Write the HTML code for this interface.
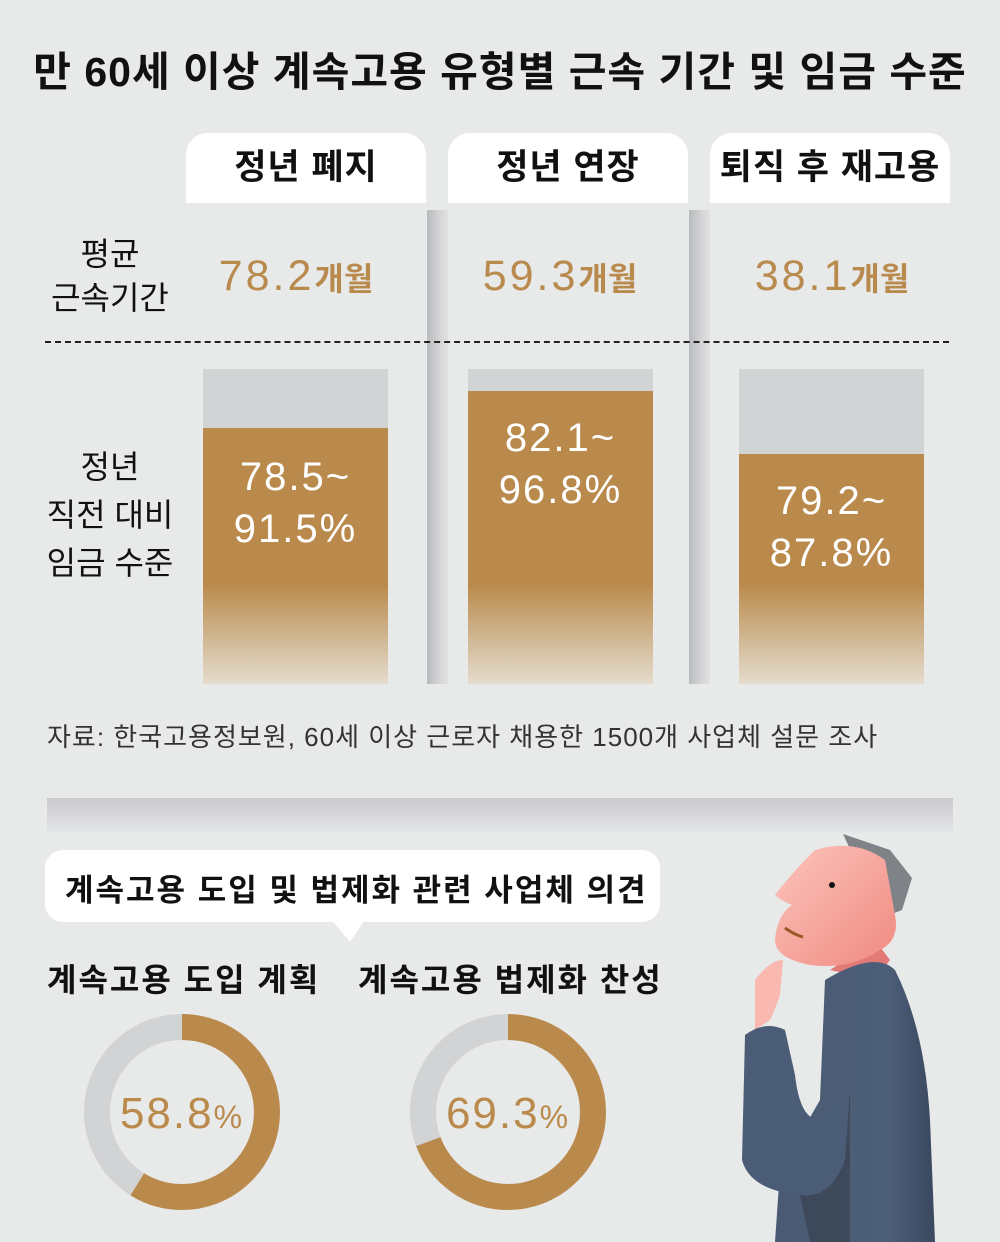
<!DOCTYPE html>
<html><head><meta charset="utf-8"><style>
*{margin:0;padding:0;box-sizing:border-box}
body{width:1000px;height:1242px;background:#e8e9e9;position:relative;overflow:hidden;font-family:"Liberation Sans","Noto Sans CJK KR",sans-serif;color:#111}
.a{position:absolute;white-space:nowrap}
.tab{position:absolute;top:133px;height:70px;width:240px;background:#fff;border-radius:22px 22px 0 0;text-align:center;font-size:35px;font-weight:bold;line-height:70px;letter-spacing:1px}
.sep{position:absolute;top:210px;height:474px;width:21px;background:linear-gradient(90deg,#b9babd,#d4d5d7 60%,#e0e1e2)}
.val{position:absolute;top:248px;width:240px;text-align:center;color:#b98a4e;font-size:43px;line-height:56px;letter-spacing:3px}
.val span{font-size:32px;font-weight:bold;letter-spacing:0}
.bar{position:absolute;top:369px;height:315px;width:185px;background:#d2d3d5}
.fill{position:absolute;left:0;right:0;bottom:0;background:linear-gradient(180deg,#ba8a4c 0,#ba8a4c calc(100% - 100px),#e4dccd 100%)}
.bt{position:absolute;left:0;right:0;text-align:center;color:#fff;font-size:40px;line-height:52px;letter-spacing:2px}
.lab{position:absolute;font-size:32px;line-height:48px;text-align:center}
.h2{position:absolute;top:955px;font-size:32px;font-weight:bold;letter-spacing:2px}
</style></head><body>
<div class="a" style="left:0;width:1000px;text-align:center;top:44px;font-size:41px;font-weight:bold;line-height:56px;letter-spacing:1px">만 60세 이상 계속고용 유형별 근속 기간 및 임금 수준</div>

<div class="tab" style="left:186px">정년 폐지</div>
<div class="tab" style="left:448px">정년 연장</div>
<div class="tab" style="left:710px">퇴직 후 재고용</div>

<div class="sep" style="left:427px"></div>
<div class="sep" style="left:689px"></div>

<div class="lab" style="left:35px;top:232px;width:150px;line-height:44px">평균<br>근속기간</div>
<div class="val" style="left:176px">78.2<span>개월</span></div>
<div class="val" style="left:440px">59.3<span>개월</span></div>
<div class="val" style="left:712px">38.1<span>개월</span></div>

<div class="a" style="left:45px;top:341px;width:904px;border-top:2px dashed #222"></div>

<div class="lab" style="left:25px;top:443px;width:170px">정년<br>직전 대비<br>임금 수준</div>

<div class="bar" style="left:203px"><div class="fill" style="top:59px"></div><div class="bt" style="top:82px">78.5~<br>91.5%</div></div>
<div class="bar" style="left:468px"><div class="fill" style="top:22px"></div><div class="bt" style="top:43px">82.1~<br>96.8%</div></div>
<div class="bar" style="left:739px"><div class="fill" style="top:85px"></div><div class="bt" style="top:106px">79.2~<br>87.8%</div></div>

<div class="a" style="left:47px;top:717px;font-size:26px;color:#333;letter-spacing:1px">자료: 한국고용정보원, 60세 이상 근로자 채용한 1500개 사업체 설문 조사</div>

<div class="a" style="left:47px;top:798px;width:906px;height:35px;background:linear-gradient(180deg,#c9cacc,#e5e6e7)"></div>

<div class="a" style="left:45px;top:850px;width:615px;height:72px;background:#fff;border-radius:18px"></div>
<svg class="a" style="left:330px;top:918px" width="40" height="26"><polygon points="0,0 36,0 20,24" fill="#fff"/></svg>
<div class="a" style="left:65px;top:865px;font-size:31px;font-weight:bold;letter-spacing:2px">계속고용 도입 및 법제화 관련 사업체 의견</div>

<div class="h2" style="left:47px">계속고용 도입 계획</div>
<div class="h2" style="left:358px">계속고용 법제화 찬성</div>

<svg class="a" style="left:0;top:1000px" width="700" height="242">
<g transform="translate(182,112) rotate(-90)">
<circle r="85" fill="none" stroke="#d2d3d5" stroke-width="26"/>
<circle r="85" fill="none" stroke="#ba8a4c" stroke-width="26" stroke-dasharray="314.0 534.1"/>
</g>
<g transform="translate(508,112) rotate(-90)">
<circle r="85" fill="none" stroke="#d2d3d5" stroke-width="26"/>
<circle r="85" fill="none" stroke="#ba8a4c" stroke-width="26" stroke-dasharray="370.1 534.1"/>
</g>
<text x="182" y="128" text-anchor="middle" font-size="44" fill="#ba8a4c" letter-spacing="2" font-family="Liberation Sans, sans-serif">58.8<tspan font-size="32">%</tspan></text>
<text x="508" y="128" text-anchor="middle" font-size="44" fill="#ba8a4c" letter-spacing="2" font-family="Liberation Sans, sans-serif">69.3<tspan font-size="32">%</tspan></text>
</svg>

<svg class="a" style="left:680px;top:820px" width="320" height="422">
<defs>
<linearGradient id="sk" x1="0" y1="0" x2="1" y2="1"><stop offset="0" stop-color="#fcc4bc"/><stop offset="1" stop-color="#f08a80"/></linearGradient>
<linearGradient id="jk" x1="0" y1="0" x2="1" y2="0"><stop offset="0" stop-color="#4a5a73"/><stop offset="0.7" stop-color="#4d5e78"/><stop offset="1" stop-color="#3a4860"/></linearGradient>
</defs>
<polygon points="163,14 210,30 232,58 222,90 202,98" fill="#7f8286"/>
<path d="M150,150 L195,120 L210,140 L195,160 Z" fill="#e27a78"/>
<path d="M135,30 Q175,18 205,40 L215,95 Q220,120 200,130 Q170,150 130,145 Q95,138 95,120 Q97,95 112,85 Q100,80 95,75 Q110,55 135,30 Z" fill="url(#sk)"/>
<circle cx="152" cy="65" r="3" fill="#111"/>
<path d="M105,108 Q115,115 123,117" stroke="#9a5a2a" stroke-width="3" fill="none"/>
<path d="M75,160 Q90,140 103,140 L100,175 Q95,190 90,200 L75,210 Z" fill="#f9b9b0"/>
<path d="M145,160 Q195,130 215,150 Q245,210 250,300 L255,422 L95,422 L100,350 L140,280 Z" fill="url(#jk)"/>
<path d="M65,215 Q85,200 105,210 L115,255 Q120,300 140,300 L160,270 L170,340 Q150,380 120,375 Q70,370 62,340 Z" fill="#4b5c76"/>
<path d="M170,270 L165,340 Q150,380 120,375 L130,422 L170,422 Z" fill="#2f3540" opacity="0.5"/>
</svg>
</body></html>
